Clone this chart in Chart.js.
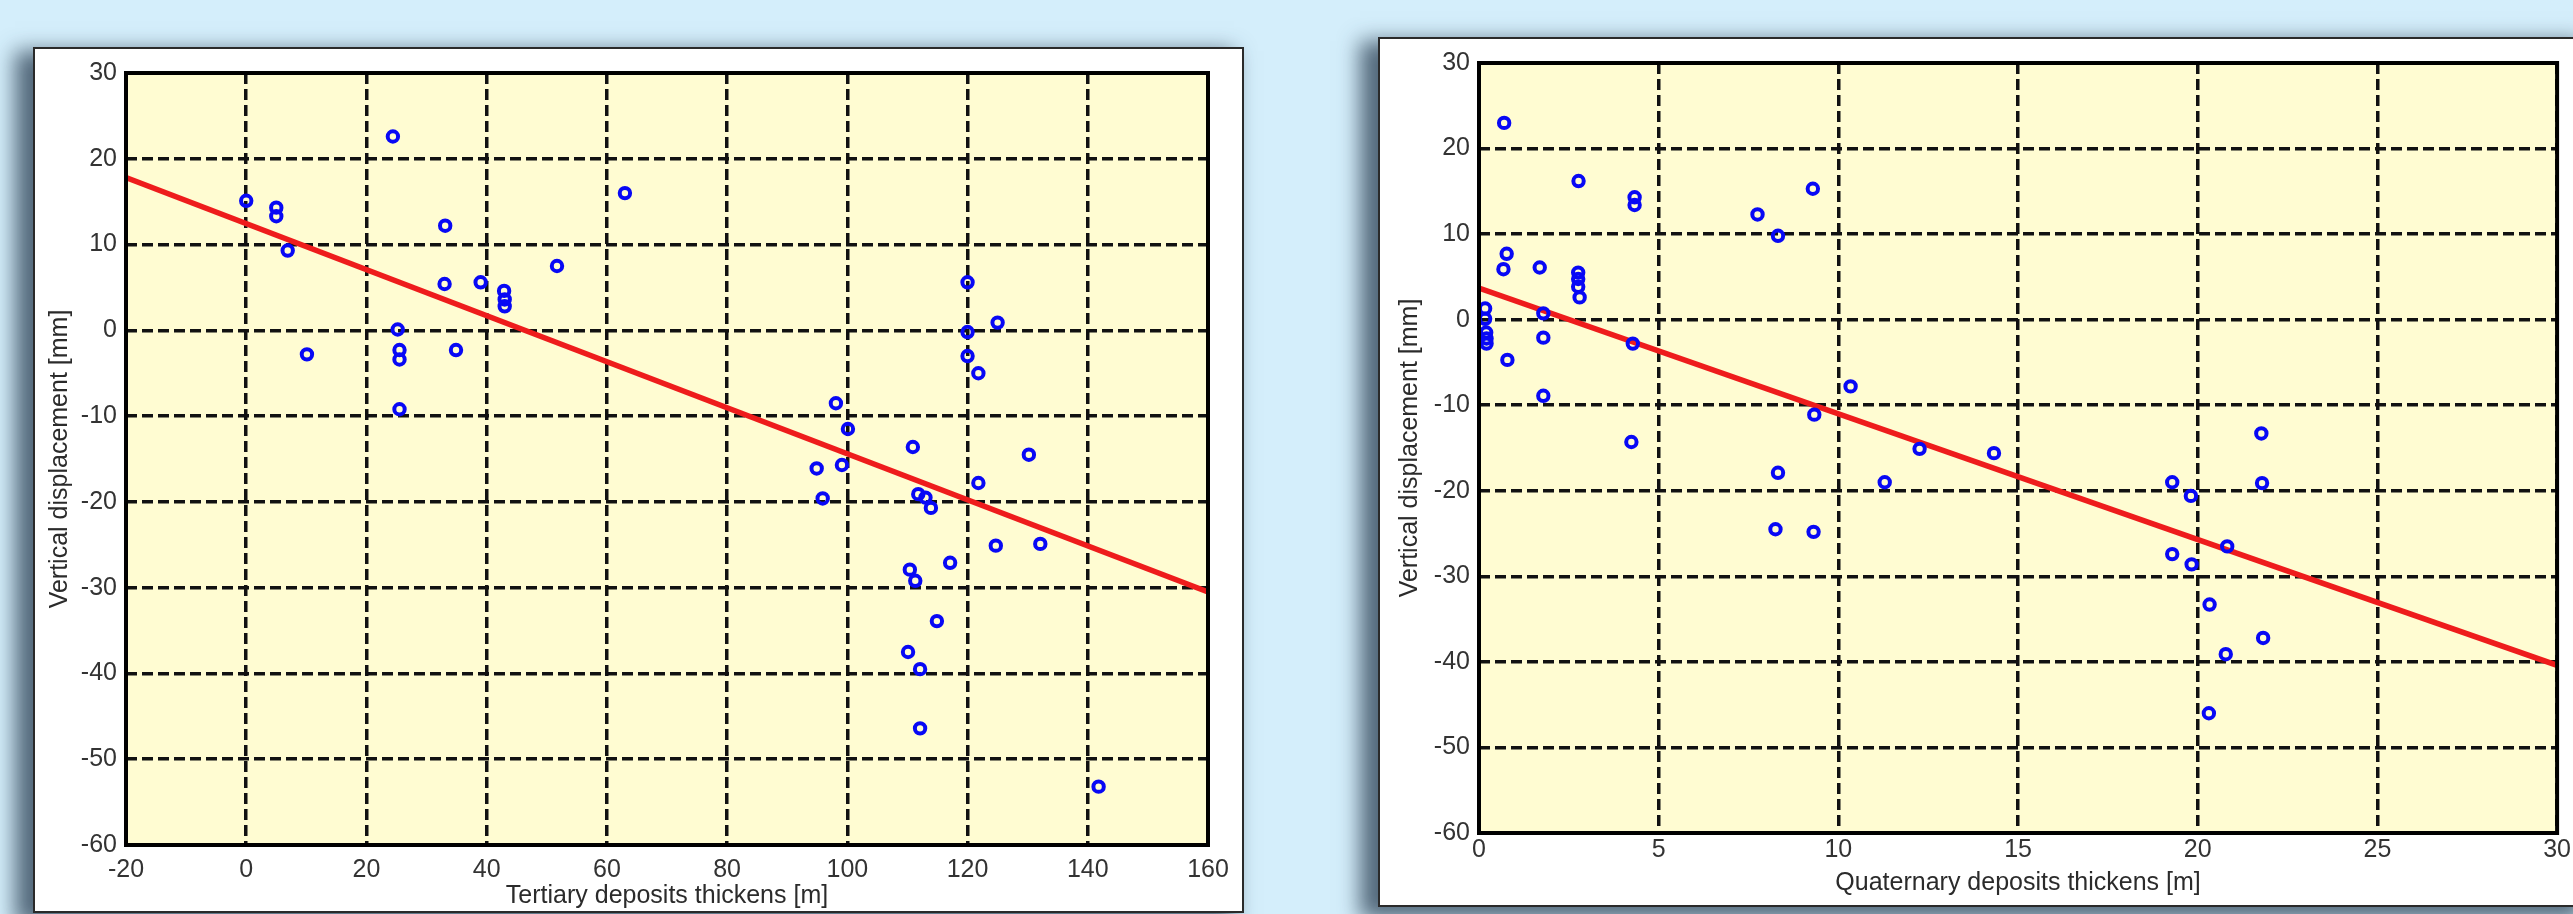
<!DOCTYPE html>
<html>
<head>
<meta charset="utf-8">
<script src="https://cdn.jsdelivr.net/npm/chart.js@4.4.1/dist/chart.umd.min.js"></script>
<style>
  html, body { margin: 0; padding: 0; }
  body { width: 2573px; height: 914px; background: #d4eefb; position: relative; overflow: hidden; }
  .box { position: absolute; background: #fff; border: 2px solid #2a2a2a;
         box-shadow: -14px 8px 20px 4px rgba(40, 60, 80, 0.75); }
  .box canvas { position: absolute; left: 0; top: 0; }
</style>
</head>
<body>
<div class="box" style="left:33px; top:47px; width:1207px; height:862px;">
  <canvas id="chartTertiary" width="1207" height="862"></canvas>
</div>
<div class="box" style="left:1378px; top:37px; width:1210px; height:866px;">
  <canvas id="chartQuaternary" width="1193" height="866"></canvas>
</div>
<script>
// Tertiary deposits thickness [m] vs vertical displacement [mm]
const tertiaryX = [0, 5, 5, 6.9, 10.1, 24.4, 25.2, 25.5, 25.5, 25.5, 33.1, 33.0, 34.9, 39.0, 42.9, 43.0, 43.0,
  51.7, 63.0, 98.1, 100.1, 94.9, 99.1, 95.9, 110.9, 111.8, 113.0, 113.9, 110.4, 111.3, 117.1, 114.9,
  110.1, 112.1, 112.1, 120, 120, 120, 121.8, 125.0, 121.8, 130.2, 124.7, 132.1, 141.8];
const tertiaryY = [15.1, 14.3, 13.3, 9.3, -2.8, 22.6, 0.1, -2.3, -3.4, -9.2, 12.2, 5.4, -2.3, 5.6, 4.6, 3.6, 2.8,
  7.5, 16.0, -8.5, -11.5, -16.1, -15.7, -19.6, -13.6, -19.1, -19.5, -20.7, -27.9, -29.2, -27.1, -33.9,
  -37.5, -39.5, -46.4, 5.6, -0.2, -3.0, -5.0, 0.9, -17.8, -14.5, -25.1, -24.9, -53.2];
const tertiaryFitX = [-20, 160];
const tertiaryFitY = [17.8, -30.5];

// Quaternary deposits thickness [m] vs vertical displacement [mm]
const quaternaryX = [0.7, 2.77, 4.33, 4.33, 9.29, 7.75, 8.32, 0.77, 0.68, 1.69, 2.76, 2.76, 2.76, 2.8,
  0.17, 0.17, 0.2, 0.21, 0.21, 1.79, 1.79, 0.79, 4.28, 1.79, 4.24, 10.34, 9.33, 12.26, 14.33, 8.32,
  11.29, 8.25, 9.31, 19.29, 19.81, 19.29, 19.83, 20.82, 21.77, 21.79, 20.33, 21.82, 20.78, 20.31];
const quaternaryY = [23.0, 16.2, 14.3, 13.4, 15.3, 12.3, 9.8, 7.7, 5.9, 6.1, 5.5, 4.75, 3.85, 2.6,
  1.3, 0.1, -1.5, -2.2, -2.8, 0.74, -2.1, -4.7, -2.8, -8.9, -14.3, -7.8, -11.1, -15.1, -15.6, -17.9,
  -19.0, -24.5, -24.8, -19.0, -20.6, -27.4, -28.6, -26.5, -13.3, -19.1, -33.3, -37.2, -39.1, -46.0];
const quaternaryFitX = [0, 30];
const quaternaryFitY = [3.7, -40.4];

const yTicks = { min: -60, max: 30, step: 10 };

const FONT = "'Liberation Sans', Arial, sans-serif";
const FONT_SIZE = 25;

function toPoints(xs, ys) {
  return xs.map((x, i) => ({ x: x, y: ys[i] }));
}

// pale yellow plot area + full black frame
const framePlugin = {
  id: "frame",
  beforeDraw(chart) {
    const a = chart.chartArea, ctx = chart.ctx;
    ctx.save();
    ctx.fillStyle = "#fffcd2";
    ctx.fillRect(a.left, a.top, a.right - a.left, a.bottom - a.top);
    ctx.restore();
  },
  afterDraw(chart) {
    const a = chart.chartArea, ctx = chart.ctx;
    ctx.save();
    ctx.strokeStyle = "#000";
    ctx.lineWidth = 4;
    ctx.strokeRect(a.left, a.top, a.right - a.left, a.bottom - a.top);
    ctx.restore();
  }
};

function makeChart(id, cfg) {
  const ctx = document.getElementById(id).getContext("2d");
  return new Chart(ctx, {
    data: {
      datasets: [
        {
          type: "line",
          data: toPoints(cfg.fitX, cfg.fitY),
          borderColor: "#ee1c1c",
          borderWidth: 5.5,
          pointRadius: 0,
          fill: false,
          order: 2
        },
        {
          type: "scatter",
          data: toPoints(cfg.x, cfg.y),
          pointStyle: "circle",
          pointRadius: 5.2,
          pointBorderWidth: 4,
          borderColor: "#0808f5",
          backgroundColor: "rgba(0,0,0,0)",
          order: 1
        }
      ]
    },
    options: {
      responsive: false,
      animation: false,
      layout: { padding: { left: 0, top: cfg.padTop, right: cfg.padRight, bottom: 0 } },
      plugins: { legend: { display: false }, tooltip: { enabled: false } },
      scales: {
        x: {
          type: "linear",
          min: cfg.xMin,
          max: cfg.xMax,
          afterFit(axis) { axis.height = cfg.xAxisHeight; },
          ticks: { stepSize: cfg.xStep, padding: cfg.xTickPad, color: "#333", font: { family: FONT, size: FONT_SIZE } },
          grid: { color: "#111", lineWidth: 3.5, drawTicks: false },
          border: { display: false, dash: [11, 5] },
          title: {
            display: true,
            text: cfg.xTitle,
            color: "#2b2b2b",
            font: { family: FONT, size: FONT_SIZE },
            padding: { top: 0, bottom: cfg.xTitlePad }
          }
        },
        y: {
          type: "linear",
          min: yTicks.min,
          max: yTicks.max,
          afterFit(axis) { axis.width = cfg.yAxisWidth; },
          ticks: { stepSize: yTicks.step, padding: 9, color: "#333", font: { family: FONT, size: FONT_SIZE } },
          grid: { color: "#111", lineWidth: 3.5, drawTicks: false },
          border: { display: false, dash: [11, 5] },
          title: {
            display: true,
            text: "Vertical displacement [mm]",
            color: "#2b2b2b",
            font: { family: FONT, size: FONT_SIZE },
            padding: { top: cfg.yTitlePad, bottom: 0 }
          }
        }
      }
    },
    plugins: [framePlugin]
  });
}

makeChart("chartTertiary", {
  x: tertiaryX, y: tertiaryY, fitX: tertiaryFitX, fitY: tertiaryFitY,
  xMin: -20, xMax: 160, xStep: 20,
  xTitle: "Tertiary deposits thickens [m]",
  padTop: 24, padRight: 34, xAxisHeight: 66, yAxisWidth: 91,
  xTickPad: 10, xTitlePad: 0, yTitlePad: 10
});

makeChart("chartQuaternary", {
  x: quaternaryX, y: quaternaryY, fitX: quaternaryFitX, fitY: quaternaryFitY,
  xMin: 0, xMax: 30, xStep: 5,
  xTitle: "Quaternary deposits thickens [m]",
  padTop: 23, padRight: 13, xAxisHeight: 72, yAxisWidth: 99,
  xTickPad: 2, xTitlePad: 7, yTitlePad: 15
});
</script>
</body>
</html>
